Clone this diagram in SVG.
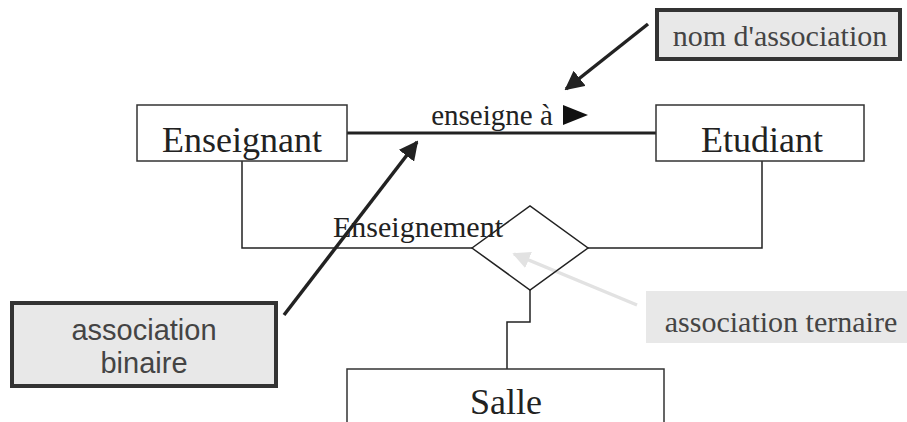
<svg xmlns="http://www.w3.org/2000/svg" width="907" height="422" viewBox="0 0 907 422">
<defs>
<style>
.box{fill:#fff;stroke:#333;stroke-width:1.5}
.ln{fill:none;stroke:#222;stroke-width:1.5}
.serif{font-family:"Liberation Serif","Times New Roman",serif;fill:#222}
.note{fill:#e8e8e8;stroke:#333;stroke-width:4}
</style>
<marker id="ah" viewBox="0 0 10 10" refX="9" refY="5" markerWidth="5.5" markerHeight="5.5" markerUnits="strokeWidth" orient="auto"><path d="M0,0 L10,5 L0,10 z" fill="#222"/></marker>
<marker id="ahl" viewBox="0 0 10 10" refX="9" refY="5" markerWidth="5" markerHeight="5" markerUnits="strokeWidth" orient="auto"><path d="M0,0 L10,5 L0,10 z" fill="#e2e2e2"/></marker>
</defs>
<g id="connectors">
<line class="ln" x1="347" y1="133" x2="656" y2="133" style="stroke-width:3"/>
<polyline class="ln" points="242,161 242,248 472,248"/>
<polyline class="ln" points="588,248 762,248 762,161"/>
<polyline class="ln" points="530,290 530,322 507,322 507,369"/>
<line x1="648" y1="24" x2="566" y2="89" stroke="#222" stroke-width="3.5" marker-end="url(#ah)"/>
<line x1="284" y1="315" x2="417" y2="142" stroke="#222" stroke-width="3.5" marker-end="url(#ah)"/>
<line x1="637" y1="305" x2="514" y2="254" stroke="#e2e2e2" stroke-width="3.5" marker-end="url(#ahl)"/>
</g>
<g id="enseignant">
<rect class="box" x="137" y="105" width="210" height="56"/>
<text class="serif" x="242" y="152" font-size="36" text-anchor="middle">Enseignant</text>
</g>
<g id="etudiant">
<rect class="box" x="656" y="105" width="208" height="56"/>
<text class="serif" x="762" y="152" font-size="36" text-anchor="middle">Etudiant</text>
</g>
<g id="assoc-label">
<text class="serif" x="492" y="125" font-size="29" text-anchor="middle">enseigne à</text>
<path d="M563,105 L588,115 L563,125 z" fill="#111"/>
</g>
<g id="enseignement">
<path d="M472,248 L530,206 L588,248 L530,290 z" fill="none" stroke="#222" stroke-width="1.5"/>
<text class="serif" x="418" y="237" font-size="30" text-anchor="middle">Enseignement</text>
</g>
<g id="salle">
<path d="M347,422 L347,369 L664,369 L664,422" fill="#fff" stroke="#333" stroke-width="1.5"/>
<text class="serif" x="506" y="414" font-size="36" text-anchor="middle">Salle</text>
</g>
<g id="nom-association">
<rect class="note" x="657" y="10" width="243" height="49"/>
<text class="serif" x="780" y="46" font-size="30" text-anchor="middle" style="fill:#444">nom d'association</text>
</g>
<g id="association-binaire">
<rect class="note" x="12" y="303" width="264" height="83"/>
<text x="144" y="340" font-size="29" text-anchor="middle" font-family="Liberation Sans, Arial, sans-serif" fill="#444">association</text>
<text x="144" y="373" font-size="29" text-anchor="middle" font-family="Liberation Sans, Arial, sans-serif" fill="#444">binaire</text>
</g>
<g id="association-ternaire">
<rect x="646" y="291" width="261" height="52" fill="#e8e8e8"/>
<text class="serif" x="781" y="332" font-size="30" text-anchor="middle" style="fill:#444">association ternaire</text>
</g>
</svg>
